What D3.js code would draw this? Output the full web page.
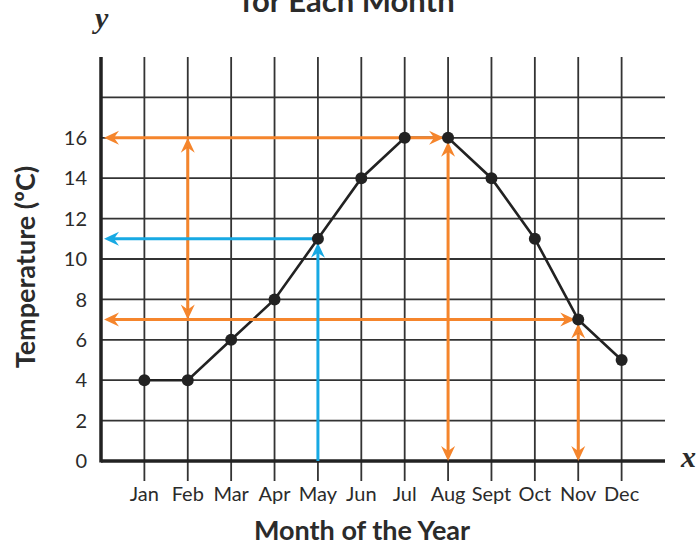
<!DOCTYPE html>
<html>
<head>
<meta charset="utf-8">
<script src="https://cdn.jsdelivr.net/npm/d3@7"></script>
<style>
  body { margin: 0; background: #fff; }
  text { font-family: Lato, "Open Sans", sans-serif; fill: #2b2b2b; }
</style>
</head>
<body>
<div id="chart"></div>
<script>
// data
const months = ['Jan', 'Feb', 'Mar', 'Apr', 'May', 'Jun', 'Jul', 'Aug', 'Sept', 'Oct', 'Nov', 'Dec'];
const temps = [4, 4, 6, 8, 11, 14, 16, 16, 14, 11, 7, 5];
const yTicks = [0, 2, 4, 6, 8, 10, 12, 14, 16];
const yGrid = [2, 4, 6, 8, 10, 12, 14, 16, 18];

// reading lines: from / to are [month or null (= y axis), value]; heads at start / end
const orangeLines = [
  { from: [null, 16], to: ['Aug', 16], heads: [true, true], inset: [0, 4] },
  { from: ['Feb', 16], to: ['Feb', 7], heads: [true, true], inset: [0, 0] },
  { from: [null, 7], to: ['Nov', 7], heads: [true, true], inset: [0, 3] },
  { from: ['Aug', 16], to: ['Aug', 0], heads: [true, true], inset: [4, 0] },
  { from: ['Nov', 7], to: ['Nov', 0], heads: [true, true], inset: [4, 0] }
];
const blueLines = [
  { from: [null, 11], to: ['May', 11], heads: [true, false], inset: [0, 0] },
  { from: ['May', 11], to: ['May', 0], heads: [true, false], inset: [4, 0] }
];

const width = 697, height = 548;
const margin = { left: 101, right: 665, top: 57 };

const svg = d3.select('#chart')
  .append('svg')
  .attr('width', width)
  .attr('height', height);

const x = d3.scalePoint()
  .domain(months)
  .range([margin.left, margin.right])
  .padding(1);

const y = d3.scaleLinear()
  .domain([0, 20])
  .range([461, margin.top]);

// grid
svg.append('g')
  .selectAll('line')
  .data(months)
  .join('line')
  .attr('x1', d => x(d)).attr('x2', d => x(d))
  .attr('y1', y(20)).attr('y2', y(0) + 20)
  .attr('stroke', '#333')
  .attr('stroke-width', 1.8);

svg.append('g')
  .selectAll('line')
  .data(yGrid)
  .join('line')
  .attr('x1', margin.left).attr('x2', margin.right)
  .attr('y1', d => y(d)).attr('y2', d => y(d))
  .attr('stroke', '#333')
  .attr('stroke-width', 1.8);

// axes
svg.append('line')
  .attr('x1', margin.left).attr('x2', margin.left)
  .attr('y1', y(20)).attr('y2', y(0) + 1.5)
  .attr('stroke', '#222').attr('stroke-width', 3.5);
svg.append('line')
  .attr('x1', margin.left).attr('x2', margin.right)
  .attr('y1', y(0)).attr('y2', y(0))
  .attr('stroke', '#222').attr('stroke-width', 3.5);

// tick labels
svg.append('g')
  .selectAll('text')
  .data(yTicks)
  .join('text')
  .attr('x', 87)
  .attr('y', d => y(d))
  .attr('dy', '0.36em')
  .attr('text-anchor', 'end')
  .style('font-size', '20px')
  .text(d => d);

svg.append('g')
  .selectAll('text')
  .data(months)
  .join('text')
  .attr('x', d => x(d))
  .attr('y', 501)
  .attr('text-anchor', 'middle')
  .style('font-size', '20px')
  .text(d => d);

// data line
const line = d3.line()
  .x((d, i) => x(months[i]))
  .y(d => y(d));

svg.append('path')
  .datum(temps)
  .attr('d', line)
  .attr('fill', 'none')
  .attr('stroke', '#222')
  .attr('stroke-width', 2.6);

// reading lines with arrow heads
const px = p => p[0] === null ? margin.left + 3 : x(p[0]);
const head = 'M0,0 L-15,-7 L-10,0 L-15,7 Z';

const drawArrows = (lines, color) => {
  const g = svg.append('g');
  lines.forEach(l => {
    let x1 = px(l.from), y1 = y(l.from[1]);
    let x2 = px(l.to), y2 = y(l.to[1]);
    const len = Math.hypot(x2 - x1, y2 - y1);
    const ux = (x2 - x1) / len, uy = (y2 - y1) / len;
    // pull tips back from points
    x1 += ux * l.inset[0]; y1 += uy * l.inset[0];
    x2 -= ux * l.inset[1]; y2 -= uy * l.inset[1];
    const ang = Math.atan2(uy, ux) * 180 / Math.PI;
    g.append('line')
      .attr('x1', x1 + (l.heads[0] ? ux * 10 : 0))
      .attr('y1', y1 + (l.heads[0] ? uy * 10 : 0))
      .attr('x2', x2 - (l.heads[1] ? ux * 10 : 0))
      .attr('y2', y2 - (l.heads[1] ? uy * 10 : 0))
      .attr('stroke', color)
      .attr('stroke-width', 3);
    if (l.heads[0]) {
      g.append('path').attr('d', head).attr('fill', color)
        .attr('transform', `translate(${x1},${y1}) rotate(${ang + 180})`);
    }
    if (l.heads[1]) {
      g.append('path').attr('d', head).attr('fill', color)
        .attr('transform', `translate(${x2},${y2}) rotate(${ang})`);
    }
  });
};
drawArrows(orangeLines, '#f5852c');
drawArrows(blueLines, '#17a9e3');

// points
svg.append('g')
  .selectAll('circle')
  .data(temps)
  .join('circle')
  .attr('cx', (d, i) => x(months[i]))
  .attr('cy', d => y(d))
  .attr('r', 6)
  .attr('fill', '#222');

// titles (top title is cropped by the frame, as in the source)
svg.append('text')
  .attr('x', 348)
  .attr('y', 12)
  .attr('text-anchor', 'middle')
  .style('font-size', '31px')
  .style('font-weight', 'bold')
  .text('for Each Month');

svg.append('text')
  .attr('x', 362)
  .attr('y', 540)
  .attr('text-anchor', 'middle')
  .style('font-size', '27px')
  .style('font-weight', 'bold')
  .text('Month of the Year');

svg.append('text')
  .attr('transform', 'translate(35,267) rotate(-90)')
  .attr('text-anchor', 'middle')
  .style('font-size', '27px')
  .style('font-weight', 'bold')
  .text('Temperature (ºC)');

// axis letters
svg.append('text')
  .attr('x', 95)
  .attr('y', 28)
  .style('font-family', '"Liberation Serif", serif')
  .style('font-style', 'italic')
  .style('font-weight', 'bold')
  .style('font-size', '30px')
  .text('y');

svg.append('text')
  .attr('x', 681)
  .attr('y', 467)
  .style('font-family', '"Liberation Serif", serif')
  .style('font-style', 'italic')
  .style('font-weight', 'bold')
  .style('font-size', '30px')
  .text('x');
</script>
</body>
</html>
